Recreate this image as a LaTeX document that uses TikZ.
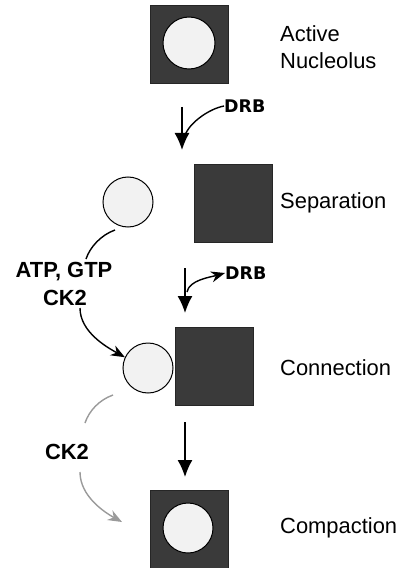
\documentclass[tikz,border=0pt]{standalone}
\usepackage{fontspec}
\setmainfont{Liberation Sans}
\newfontfamily\drbfont{DejaVu Sans}
\usetikzlibrary{arrows.meta}
\definecolor{sqfill}{HTML}{3A3A3A}
\definecolor{cfill}{HTML}{F2F2F2}
\definecolor{garrow}{HTML}{9A9A9A}
\begin{document}
\begin{tikzpicture}[x=1bp,y=-1bp,
  sqbox/.style={draw=black!85, fill=sqfill, minimum size=78bp, inner sep=0, line width=0.8bp},
  nuc/.style={circle, draw=black, fill=cfill, minimum size=50bp, inner sep=0, line width=1bp},
  stage/.style={anchor=west, font=\fontsize{22}{27}\selectfont, align=left, inner sep=0},
  blab/.style={font=\fontsize{22}{26}\selectfont\bfseries, align=center, inner sep=0},
  drb/.style={font=\drbfont\fontsize{17.5}{20}\selectfont\bfseries, inner sep=0, anchor=west},
  mainarrow/.style={-{Latex[length=17bp,width=15bp]}, line width=1.4bp},
  curv/.style={-{Stealth[length=14bp,width=11bp]}, line width=1.4bp},
  plain/.style={line width=1.4bp}]
\useasboundingbox (0,0) rectangle (405,568);

% Stage 1: active nucleolus
\node[sqbox] (sq1) at (189,44) {};
\node[nuc, minimum size=52bp] (c1) at (189,43) {};
\node[stage] (t1) at (280,47) {Active\\Nucleolus};

% arrow 1 with DRB
\node[drb] (drb1) at (224,106) {DRB};
\coordinate (v1s) at (182,107);
\coordinate (v1e) at (182,150);
\coordinate (m1) at (184,139);
\draw[mainarrow] (v1s) -- (v1e);
\draw[plain] (drb1.west) .. controls +(-16,3) and +(2,-14) .. (m1);

% Stage 2: separation
\node[nuc] (c2) at (128,202) {};
\node[sqbox] (sq2) at (233,203) {};
\node[stage] (t2) at (280,203) {Separation};

% arrow 2 with DRB
\node[drb] (drb2) at (225,273) {DRB};
\coordinate (v2s) at (185,268);
\coordinate (v2e) at (185,313);
\coordinate (m2) at (187,292);
\draw[mainarrow] (v2s) -- (v2e);
\draw[curv] (m2) .. controls +(2,-12) and +(-14,4) .. (drb2.west);

% ATP, GTP / CK2 label and curve
\node[blab] (atp) at (64,272) {ATP, GTP};
\node[blab] (ck2a) at (65,298) {CK2};
\coordinate (a1s) at (115,230);
\coordinate (a1e) at (86,259);
\coordinate (a2s) at (80,308);
\draw[plain] (a1s) .. controls +(-14,5) and +(4,-12) .. (a1e);

% Stage 3: connection
\node[nuc] (c3) at (148,368) {};
\node[sqbox] (sq3) at (214,366.5) {};
\node[stage] (t3) at (280,368) {Connection};
\draw[curv] (a2s) .. controls +(0,24) and +(-18,-10) .. (c3.155);

% arrow 3
\coordinate (v3s) at (185,422);
\coordinate (v3e) at (185,477);
\draw[mainarrow] (v3s) -- (v3e);

% gray CK2
\node[blab] (ck2b) at (67,452) {CK2};
\coordinate (g1s) at (113,395);
\coordinate (g1e) at (85,423);
\coordinate (g2s) at (80,472);
\coordinate (g2e) at (122,522);
\draw[plain, garrow] (g1s) .. controls +(-14,5) and +(4,-12) .. (g1e);
\draw[curv, garrow] (g2s) .. controls +(0,24) and +(-18,-10) .. (g2e);

% Stage 4: compaction
\node[sqbox] (sq4) at (189,529) {};
\node[nuc] (c4) at (188,528) {};
\node[stage] (t4) at (280,528) {Compaction};
\end{tikzpicture}
\end{document}
